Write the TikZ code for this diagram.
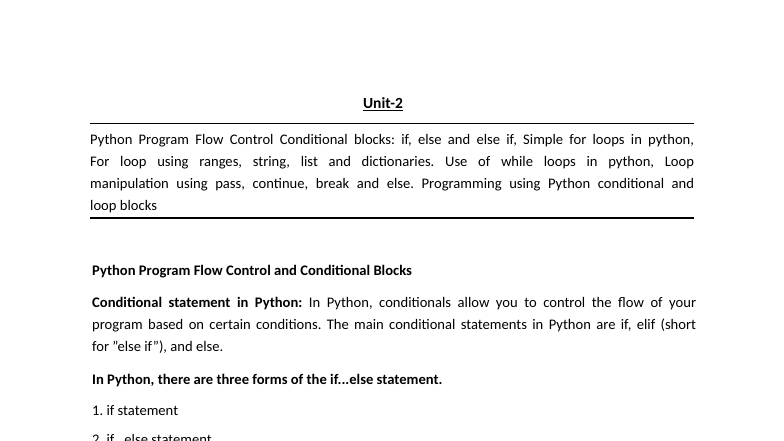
\documentclass[tikz,border=0pt]{standalone}
\usepackage{fontspec}
\setmainfont{Carlito}
\frenchspacing
\begin{document}
\begin{tikzpicture}[x=1pt,y=1pt,
  txt/.style={anchor=base west,inner sep=0pt,font=\fontsize{14.6}{22}\selectfont},
  para/.style={anchor=north west,inner sep=0pt,text width=604pt,align=justify,font=\fontsize{14.6}{22}\selectfont}]
\useasboundingbox (0,0) rectangle (784,441);
\fill[white] (0,0) rectangle (784,441);
\node[anchor=base,inner sep=0pt,font=\fontsize{15.5}{18}\selectfont\bfseries] (title) at (383,441-109) {\underline{Unit-2}};
\draw[line width=1pt] (90,441-124) -- (694,441-124);
\node[para] (p1) at (90,441-134) {Python Program Flow Control Conditional blocks: if, else and else if, Simple for loops in python,\linebreak For loop using ranges, string, list and dictionaries. Use of while loops in python, Loop\linebreak manipulation using pass, continue, break and else. Programming using Python conditional and\linebreak loop blocks};
\draw[line width=1.6pt] (90,441-218) -- (694,441-218);
\node[txt,font=\fontsize{14.6}{22}\selectfont\bfseries] (h) at (92,441-276) {Python Program Flow Control and Conditional Blocks};
\node[para] (p2) at (92,441-297) {\textbf{Conditional statement in Python:} In Python, conditionals allow you to control the flow of your\linebreak program based on certain conditions. The main conditional statements in Python are if, elif (short\linebreak for "else if"), and else.};
\node[txt,font=\fontsize{14.6}{22}\selectfont\bfseries] (f) at (92,441-385) {In Python, there are three forms of the if...else statement.};
\node[txt] (l1) at (92,441-416) {1. if statement};
\node[txt] (l2) at (92,441-445) {2. if...else statement};
\end{tikzpicture}
\end{document}
